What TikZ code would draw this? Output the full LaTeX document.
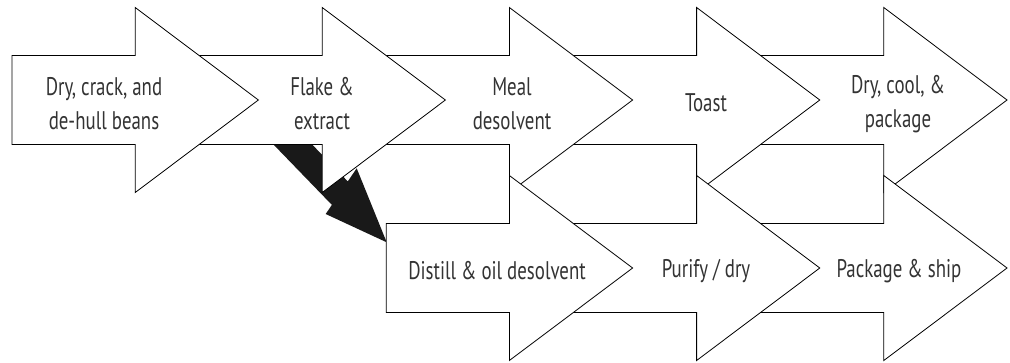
\documentclass[tikz,border=0pt]{standalone}
\usepackage{fontspec}
\setmainfont[FakeStretch=0.74]{PT Sans}
\newcommand{\flowarrowpath}[2]{% #1 = left x of body, #2 = centre y
  (#1,#2-44.5) -- ++(123.2,0) -- ++(0,-48) -- (#1+246.4,#2) -- (#1+123.2,#2+92.5) -- ++(0,-48) -- (#1,#2+44.5) -- cycle}
\begin{document}
\begin{tikzpicture}[x=1pt,y=-1pt,
  flowarrow/.style={draw=black, fill=white, line width=0.8pt, line join=miter},
  blackarrow/.style={fill=black!90, draw=none},
  label/.style={font=\fontsize{25.5}{34}\selectfont, text=black!80, align=center, inner sep=0pt}]
\useasboundingbox (0,0) rectangle (1010,362);
% black connector from "Flake & extract" to "Distill & oil desolvent"
\fill[blackarrow] (263.3,134) -- (331.9,204.9) -- (325.7,214) -- (386.7,242.3)
  -- (356.7,168.3) -- (347.8,181.4) -- (302,134) -- cycle;
% top row (drawn back to front)
\draw[flowarrow] \flowarrowpath{760.6}{100};
\draw[flowarrow] \flowarrowpath{573.4}{100};
\draw[flowarrow] \flowarrowpath{386.2}{100};
\draw[flowarrow] \flowarrowpath{199.0}{100};
\draw[flowarrow] \flowarrowpath{12}{100};
% bottom row
\draw[flowarrow] \flowarrowpath{760.6}{268};
\draw[flowarrow] \flowarrowpath{573.4}{268};
\draw[flowarrow] \flowarrowpath{386.2}{268};
% labels
\node[label] (dry)   at (104,104)   {Dry, crack, and\\de-hull beans};
\node[label] (flake) at (322,104)   {Flake \&\\extract};
\node[label] (meal)  at (512,104)   {Meal\\desolvent};
\node[label] (toast) at (706,103)   {Toast};
\node[label] (pack)  at (898,104)   {Dry, cool, \&\\package};
\node[label] (dist)  at (497,271)   {Distill \& oil desolvent};
\node[label] (pur)   at (706,271)   {Purify / dry};
\node[label] (ship)  at (899,271)   {Package \& ship};
\end{tikzpicture}
\end{document}
